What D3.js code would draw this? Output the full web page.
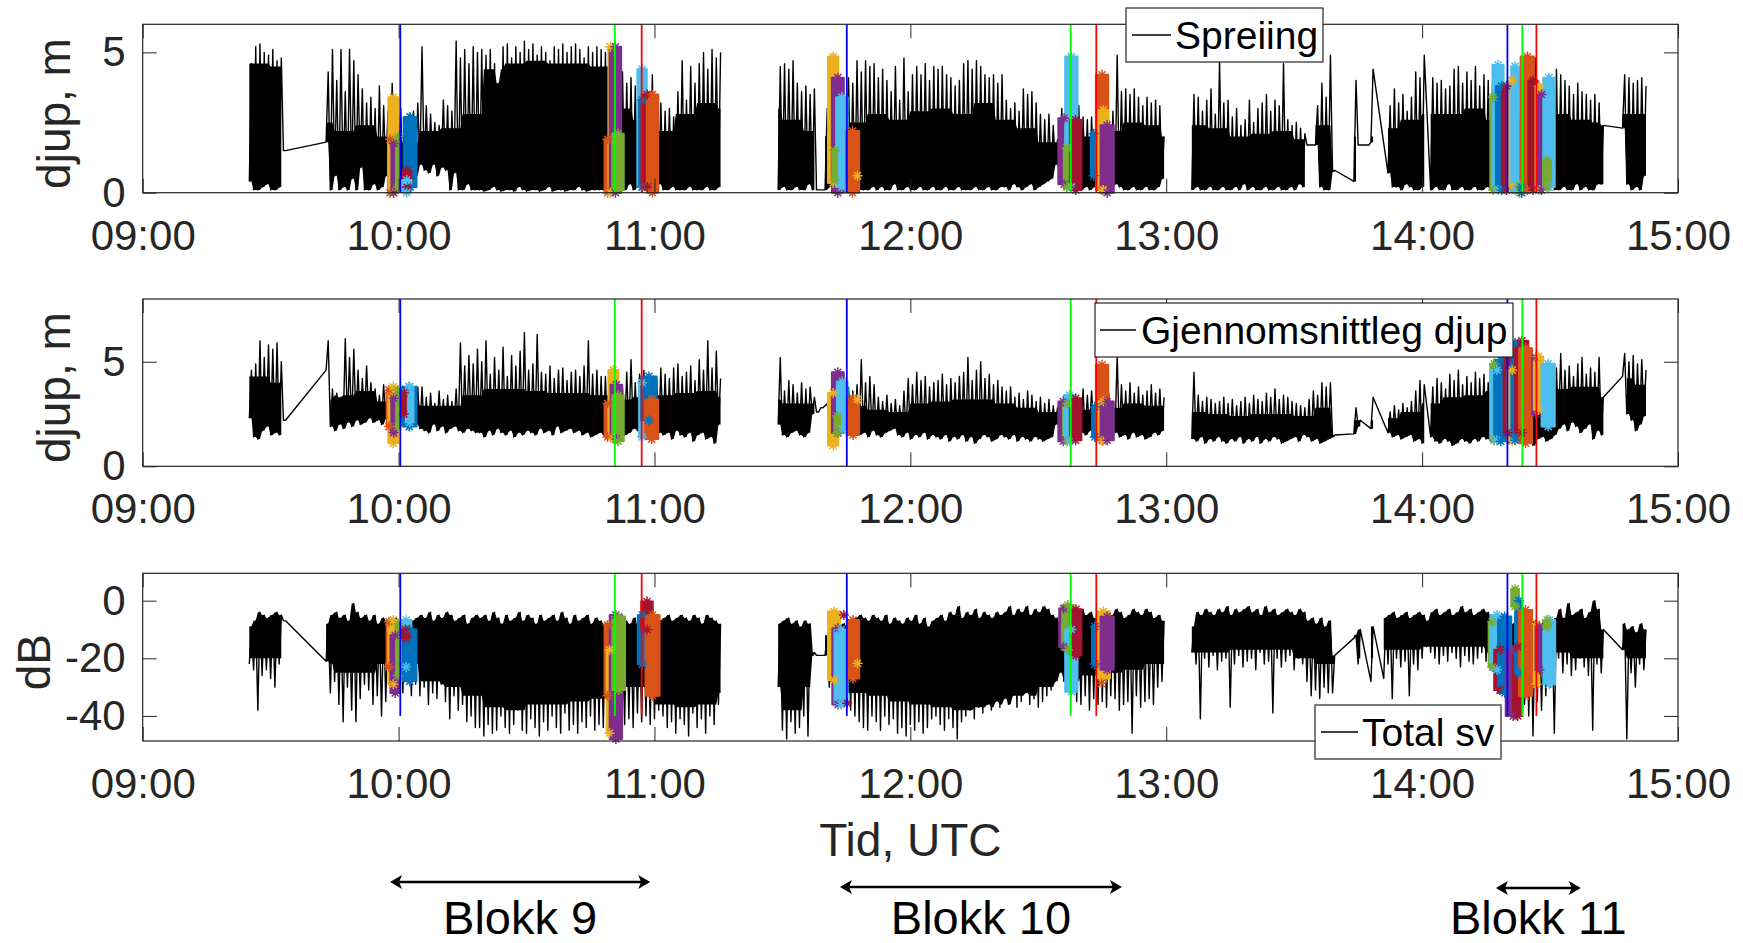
<!DOCTYPE html>
<html>
<head>
<meta charset="utf-8">
<script src="https://cdn.jsdelivr.net/npm/d3@7"></script>
<style>
  body { margin: 0; background: #fff; }
  svg text { font-family: "Liberation Sans", Arial, Helvetica, sans-serif; }
</style>
</head>
<body>
<svg id="fig" width="1743" height="943"></svg>
<script>
// one hi/lo pair per minute, first entry = 09:25 UTC; null = no sample (line joins across)
const firstMinute = 25;
// line is broken (no sample, not joined) across these minutes
const lineBreaks = [136, 240];

const spreiHi = [
  4.6,5.2,5.3,5.0,4.9,5.1,4.7,4.8,1.5,
  null,null,null,null,null,null,null,null,null,
  4.3,5.1,4.0,5.1,3.6,5.1,4.7,4.2,3.7,3.2,3.4,3.0,3.8,3.1,2.9,
  3.9,2.6,3.0,2.4,2.8,2.9,3.2,
  5.2,3.1,2.8,2.5,2.4,3.3,3.1,2.9,5.4,4.8,5.1,4.6,5.2,5.0,
  5.1,4.9,5.1,4.6,3.9,5.2,5.3,4.8,5.2,5.0,5.4,5.1,5.3,4.9,5.2,5.0,4.7,5.2,5.1,5.3,5.0,5.2,5.3,5.1,4.8,5.2,5.0,5.2,5.1,
  5.0,4.9,4.6,4.2,4.3,3.9,4.1,3.8,4.0,4.4,3.6,4.2,3.4,3.2,
  2.9,3.0,2.7,3.6,4.7,3.3,4.5,3.9,4.6,5.0,4.4,5.1,4.8,5.0,
  null,null,null,null,null,null,null,null,null,null,null,null,null,
  4.5,4.6,4.4,4.7,3.9,3.6,3.8,3.5,3.7,0.1,0.1,3.0,
  3.2,2.9,3.5,3.0,4.1,3.9,4.7,4.3,4.7,4.5,4.6,
  4.1,4.4,4.0,3.6,4.5,3.3,4.8,3.6,4.2,4.5,4.2,4.6,4.0,4.5,
  4.4,4.5,4.2,4.1,3.8,4.0,4.6,4.7,4.4,4.7,4.5,4.2,4.1,4.2,3.9,4.2,
  3.3,3.0,3.2,2.9,3.7,3.5,3.6,3.2,2.8,2.6,2.8,2.4,1.9,
  3.0,3.2,3.3,2.9,3.1,2.7,2.6,2.7,2.5,2.8,3.0,2.6,2.9,4.9,3.6,3.7,3.5,3.7,3.4,3.1,3.4,3.2,3.3,3.1,2.0,
  null,null,null,null,null,null,
  3.5,3.4,2.9,3.3,3.7,2.8,4.7,3.2,3.3,2.7,3.0,2.4,2.6,3.3,2.5,3.0,3.2,3.5,2.9,3.3,3.1,4.6,2.6,2.4,2.5,2.3,2.1,1.7,1.7,3.1,3.9,3.4,4.9,0.8,
  null,null,null,null,
  4.0,1.7,1.7,1.7,4.4,null,null,null,3.1,3.7,3.2,3.5,2.9,3.4,4.3,4.1,4.9,null,
  4.1,3.9,4.0,3.7,3.8,4.4,4.5,3.9,4.3,4.0,4.5,3.8,4.2,4.0,3.9,
  3.5,3.2,3.4,3.0,3.3,3.1,3.4,3.6,3.2,4.8,3.5,3.3,3.6,3.4,4.4,
  4.2,4.0,3.8,3.5,3.9,3.6,3.5,3.3,3.5,3.2,2.4,
  null,null,null,null,
  4.2,4.1,3.9,4.0,4.1,3.8
];
const spreiLo = [
  0.4,0.1,0.1,0.2,0.3,0.1,0.1,0.2,1.5,
  null,null,null,null,null,null,null,null,null,
  1.8,0.1,0.6,0.1,0.2,0.1,0.5,0.1,0.9,0.1,0.1,0.3,0.1,0.2,0.6,
  0.8,1.0,0.3,0.5,0.9,0.7,0.6,
  1.0,0.8,0.7,1.0,0.6,0.9,0.8,0.1,0.7,0.1,0.1,0.3,0.1,0.1,
  0.1,0.05,0.1,0.2,0.1,0.05,0.1,0.1,0.05,0.2,0.1,0.05,0.1,0.1,0.05,0.1,0.2,0.05,0.1,0.1,0.05,0.1,0.1,0.2,0.1,0.05,0.1,0.1,0.1,
  0.1,0.3,0.1,0.2,0.1,0.1,0.3,0.1,0.2,0.1,0.2,0.1,0.1,0.3,
  0.1,0.1,0.2,0.1,0.1,0.1,0.2,0.1,0.1,0.1,0.2,0.1,0.1,0.2,
  null,null,null,null,null,null,null,null,null,null,null,null,null,
  0.1,0.2,0.1,0.1,0.2,0.1,0.1,0.3,0.1,0.1,0.1,0.1,
  0.2,0.1,0.1,0.2,0.1,0.1,0.2,0.1,0.1,0.1,0.2,
  0.1,0.2,0.1,0.1,0.3,0.1,0.1,0.2,0.1,0.1,0.2,0.1,0.1,0.2,
  0.1,0.1,0.2,0.1,0.1,0.2,0.1,0.1,0.1,0.2,0.1,0.1,0.2,0.1,0.1,0.2,
  0.2,0.1,0.3,0.2,0.1,0.2,0.3,0.1,0.2,0.3,0.4,0.5,1.0,
  0.4,0.2,0.3,0.2,0.1,0.1,0.2,0.1,0.2,0.3,0.2,0.1,0.2,0.3,0.2,0.1,0.1,0.2,0.1,0.1,0.2,0.1,0.1,0.2,0.5,
  null,null,null,null,null,null,
  0.1,0.2,0.1,0.1,0.2,0.1,0.1,0.2,0.1,0.1,0.2,0.1,0.3,0.1,0.2,0.1,0.1,0.2,0.1,0.1,0.2,0.1,0.1,0.2,0.1,0.3,0.2,1.7,1.7,1.7,0.2,0.1,0.1,0.75,
  null,null,null,null,
  0.4,1.7,1.7,1.7,1.8,null,null,null,0.7,0.2,0.2,0.1,0.3,0.2,0.1,0.1,0.2,null,
  0.1,0.2,0.1,0.1,0.3,0.1,0.1,0.2,0.1,0.1,0.2,0.1,0.1,0.2,0.1,
  0.2,0.1,0.3,0.2,0.1,0.2,0.1,0.2,0.1,0.2,0.1,0.2,0.1,0.3,0.1,
  0.1,0.2,0.1,0.1,0.3,0.1,0.2,0.1,0.1,0.3,0.3,
  null,null,null,null,
  2.3,0.3,0.1,0.2,0.1,0.6
];
// upper edge of the dense part of the trace, one value per 5 minutes from 09:25
const spreiBody = [
  4.6,4.5,null,2.5,2.2,2.4,2.0,1.8,2.2,2.3,
  2.8,4.4,4.6,4.7,4.6,4.6,4.5,3.0,2.6,2.2,
  2.8,3.2,3.0,null,3.0,2.6,2.2,2.0,2.5,2.8,
  2.6,2.9,3.0,2.8,3.2,2.6,2.3,1.8,2.0,2.0,
  2.2,2.5,2.4,null,2.4,2.3,2.0,2.1,2.2,1.9,
  2.4,2.0,2.0,2.3,2.6,2.8,2.8,3.0,2.6,2.8,
  2.8,2.8,2.6,2.5,2.8,2.8
];

const gjennHi = [
  4.6,4.9,6.0,5.2,5.8,5.6,5.9,5.0,2.2,
  null,null,null,null,null,null,null,null,null,
  6.0,3.7,3.5,3.3,6.1,5.2,5.6,4.6,4.2,4.8,4.0,3.7,3.4,3.9,3.3,
  3.6,3.4,3.5,3.3,3.6,3.5,3.8,
  3.8,3.3,3.5,3.0,3.6,3.2,3.4,3.1,3.7,5.9,4.8,5.3,4.9,5.6,
  5.0,6.0,4.4,5.2,4.6,5.7,4.3,5.3,4.8,5.5,6.4,4.6,4.9,6.3,4.5,4.4,4.8,4.2,4.6,4.7,4.1,4.5,4.6,4.3,4.8,6.0,4.4,4.6,4.3,
  4.3,4.2,3.9,4.1,3.8,4.5,5.1,4.0,4.4,4.6,3.9,4.1,4.2,4.7,
  4.4,4.2,4.7,4.9,4.3,4.5,4.8,4.1,5.1,4.6,6.0,4.7,5.5,4.2,
  null,null,null,null,null,null,null,null,null,null,null,null,null,
  5.2,3.6,4.1,3.9,3.5,4.0,3.7,3.8,3.3,2.6,2.8,3.0,
  3.2,3.3,3.0,3.5,3.8,3.6,3.9,5.1,4.0,4.3,3.9,
  3.3,3.1,3.4,3.0,3.2,2.9,3.6,4.2,3.9,4.5,4.1,4.3,3.8,4.0,
  4.1,4.4,3.9,4.2,4.0,4.3,4.5,5.2,4.1,4.6,5.0,4.2,4.4,3.9,4.1,3.8,
  3.6,3.8,3.3,3.5,3.2,3.6,3.4,3.1,3.3,3.0,3.2,2.9,2.8,
  3.1,3.3,3.0,3.2,3.1,3.7,3.4,3.6,3.2,3.4,3.3,3.5,3.1,5.3,3.9,3.6,4.0,3.5,3.8,3.4,3.6,3.9,3.5,3.7,3.3,
  null,null,null,null,null,null,
  4.5,3.4,3.1,3.3,3.2,3.0,3.1,3.3,3.0,3.2,2.9,3.1,3.3,3.0,3.4,3.2,3.1,3.5,3.3,3.7,3.2,3.4,3.3,3.1,3.0,2.9,2.8,3.2,3.6,3.4,4.0,3.8,4.0,1.5,
  null,null,null,null,
  2.8,2.2,null,null,3.3,null,null,null,2.6,2.9,2.7,3.0,2.8,3.1,3.6,4.1,3.9,null,
  3.8,4.2,4.0,3.7,4.4,4.1,4.6,3.9,4.3,4.0,4.5,4.2,4.4,4.0,4.6,
  4.4,4.1,4.3,4.0,4.2,4.5,4.1,4.6,4.3,5.3,4.4,4.2,4.5,4.3,4.7,
  5.4,4.6,4.8,4.3,4.9,5.2,4.4,4.7,4.5,5.2,3.3,
  null,null,null,null,
  5.4,5.0,5.3,4.9,5.1,4.6
];
const gjennLo = [
  2.3,1.4,1.3,1.7,1.9,1.5,1.6,1.5,2.2,
  null,null,null,null,null,null,null,null,null,
  4.6,1.9,1.7,2.0,1.8,2.1,1.9,2.2,2.0,2.1,2.3,2.1,2.2,2.0,2.3,
  2.2,2.4,2.3,2.5,2.2,2.4,2.0,
  1.8,1.7,1.6,2.0,1.7,1.9,1.6,1.8,1.9,1.7,1.6,1.8,1.7,1.6,
  1.6,1.4,1.7,1.5,1.8,1.6,1.5,1.7,1.4,1.6,1.5,1.7,1.6,1.5,1.8,1.6,1.7,1.5,1.9,1.6,1.7,1.8,1.6,1.7,1.5,1.6,1.4,1.5,1.6,
  1.5,1.4,1.8,1.6,1.7,1.5,1.6,1.8,1.7,1.5,1.6,1.4,1.7,1.6,
  1.5,1.6,1.3,1.7,1.5,1.4,1.6,1.2,1.5,1.6,1.3,1.4,1.1,2.0,
  null,null,null,null,null,null,null,null,null,null,null,null,null,
  2.0,1.5,1.4,1.6,1.7,1.5,1.4,1.6,2.5,2.6,2.8,2.9,
  2.1,2.0,2.2,1.9,1.8,1.7,1.8,1.5,1.6,1.4,1.7,
  1.5,1.4,1.6,1.7,1.8,1.5,1.4,1.6,1.3,1.5,1.4,1.6,1.3,1.5,
  1.4,1.3,1.5,1.2,1.4,1.3,1.5,1.2,1.4,1.1,1.3,1.5,1.4,1.2,1.3,1.5,
  1.4,1.3,1.5,1.2,1.4,1.3,1.2,1.4,1.3,1.2,1.3,1.4,2.0,
  1.7,1.6,1.8,1.7,1.9,1.6,1.5,1.7,1.8,1.6,1.7,1.5,1.8,1.6,1.4,1.5,1.3,1.6,1.4,1.5,1.3,1.4,1.6,1.5,1.7,
  null,null,null,null,null,null,
  1.3,1.2,1.4,1.1,1.3,1.2,1.4,1.2,1.1,1.3,1.2,1.4,1.1,1.3,1.2,1.4,1.1,1.3,1.2,1.4,1.3,1.1,1.2,1.3,1.4,1.2,1.5,1.4,1.2,1.3,1.1,1.2,1.3,1.4,
  null,null,null,null,
  1.55,1.9,null,null,1.8,null,null,null,1.6,1.4,1.5,1.3,1.4,1.5,1.2,1.3,1.1,null,
  1.4,1.2,1.1,1.3,1.2,1.0,1.1,1.3,1.2,1.1,1.3,1.2,1.4,1.3,1.2,
  1.3,1.2,1.4,1.1,1.3,1.2,1.4,1.3,1.2,1.0,1.3,1.4,1.2,1.3,1.5,
  1.8,2.0,1.7,2.1,1.9,1.6,1.8,2.0,1.3,1.7,1.5,
  null,null,null,null,
  4.3,2.5,2.2,1.7,2.0,2.4
];
const gjennBody = [
  4.3,4.0,null,3.2,3.4,3.6,3.1,3.0,2.9,2.9,
  3.4,3.7,3.7,3.6,3.5,3.5,3.4,3.2,3.3,3.4,
  3.5,3.6,3.3,null,3.2,3.0,3.0,2.8,2.9,2.7,
  2.6,3.0,3.1,3.2,3.2,3.0,2.8,2.6,2.6,2.7,
  2.8,3.0,2.9,null,2.6,2.5,2.4,2.5,2.5,2.4,
  2.8,2.2,2.2,2.3,2.6,3.0,3.3,3.4,3.6,3.8,
  3.8,3.7,3.8,3.8,4.2,3.9
];

const svHi = [
  -9,-7,-4,-5,-6,-5,-4,-5,-7,
  null,null,null,null,null,null,null,null,null,
  -8,-5,-4,-6,-5,-7,-1,-4,-6,-5,-7,-5,-8,-6,-7,
  -8,-6,-9,-7,-8,-7,-6,
  -5,-6,-4,-7,-5,-6,-4,-5,-7,-6,-5,-8,-6,-5,
  -6,-5,-7,-4,-6,-8,-5,-7,-6,-4,-7,-5,-6,-8,-5,-7,-6,-5,-7,-4,-6,-8,-5,-7,-6,-5,-8,-6,-7,
  -8,-9,-7,-8,-9,-7,-8,-6,-9,-7,-8,-6,-5,-7,
  -6,-5,-7,-6,-5,-6,-7,-5,-6,-8,-5,-6,-7,-8,
  null,null,null,null,null,null,null,null,null,null,null,null,null,
  -8,-7,-6,-8,-7,-9,-7,-8,-18,-19,-19,-12,
  -10,-9,-11,-8,-9,-7,-6,-5,-6,-7,-5,
  -6,-7,-5,-8,-6,-7,-8,-6,-7,-5,-8,-6,-9,-7,
  -6,-5,-7,-4,-5,-2,-6,-4,-5,-3,-6,-4,-5,-6,-4,-5,
  -4,-2,-5,-3,-4,-2,-5,-3,-4,-2,-3,-5,-6,
  -8,-5,-6,-4,-6,-3,-5,-4,-6,-5,-4,-6,-5,-3,-4,-6,-5,-3,-4,-5,-3,-4,-6,-5,-7,
  null,null,null,null,null,null,
  -9,-4,-5,-3,-4,-5,-3,-4,-2,-5,-3,-4,-3,-2,-4,-3,-5,-2,-4,-3,-5,-4,-3,-4,-5,-3,-4,-7,-6,-8,-6,-9,-7,-19,
  null,null,null,null,
  -12,-10,null,null,-9,null,null,-6,-5,-4,-6,-5,-4,-6,-5,-4,-5,-7,
  -4,-3,-5,-4,-3,-5,-4,-2,-4,-3,-5,-4,-3,-4,-5,
  -8,-7,-9,-6,-8,-7,-9,-8,-6,-7,-8,-9,-7,-8,-6,
  -3,-6,-1,-5,-4,-3,-6,-4,0,-3,-10,
  null,null,null,null,
  -8,-10,-9,-11,-8,-10
];
const svLo = [
  -22,-24,-38,-26,-24,-27,-30,-22,-7,
  null,null,null,null,null,null,null,null,null,
  -21,-32,-28,-36,-42,-30,-38,-42,-34,-29,-31,-36,-33,-40,-35,
  -28,-30,-25,-32,-27,-33,-29,
  -33,-30,-36,-32,-34,-29,-35,-41,-33,-38,-36,-42,-40,-44,
  -44,-47,-43,-46,-45,-40,-44,-46,-43,-38,-45,-46,-41,-44,-47,-42,-45,-40,-44,-46,-39,-45,-43,-46,-42,-44,-40,-45,-43,
  -44,-41,-45,-42,-40,-43,-41,-44,-39,-42,-40,-43,-41,-38,
  -40,-44,-42,-46,-41,-43,-47,-39,-44,-41,-46,-40,-43,-36,
  null,null,null,null,null,null,null,null,null,null,null,null,null,
  -30,-45,-48,-42,-46,-44,-40,-47,-19,-19,-19,-19,
  -30,-28,-33,-31,-35,-38,-40,-42,-44,-45,-40,
  -42,-45,-40,-43,-41,-46,-44,-47,-43,-45,-42,-46,-44,-41,
  -40,-43,-45,-41,-44,-48,-42,-40,-38,-41,-37,-39,-36,-38,-35,-37,
  -34,-36,-33,-37,-35,-32,-36,-34,-37,-35,-33,-31,-28,
  -25,-28,-30,-32,-35,-36,-33,-38,-34,-36,-35,-37,-33,-34,-38,-36,-35,-46,-33,-37,-35,-34,-36,-30,-28,
  null,null,null,null,null,null,
  -18,-22,-41,-20,-23,-19,-24,-21,-20,-37,-22,-19,-23,-21,-20,-24,-18,-22,-21,-39,-20,-23,-21,-19,-24,-20,-22,-28,-33,-31,-34,-30,-32,-32,
  null,null,null,null,
  -13,-22,null,null,-28,null,null,-27,-22,-34,-20,-23,-21,-33,-22,-24,-20,-16,
  -18,-20,-22,-19,-21,-18,-20,-23,-19,-21,-22,-20,-18,-21,-19,
  -22,-25,-28,-30,-33,-35,-32,-36,-40,-47,-35,-38,-33,-30,-46,
  -20,-25,-22,-26,-24,-20,-23,-26,-45,-22,-25,
  null,null,null,null,
  -17,-48,-25,-30,-22,-24
];
// lower edge of the dense part of the trace, one value per 5 minutes from 09:25
const svBody = [
  -20,-20,null,-22,-25,-25,-22,-22,-28,-30,
  -33,-37,-38,-36,-36,-35,-34,-30,-30,-36,
  -37,-36,-32,null,-38,-38,-30,-28,-32,-33,
  -35,-36,-37,-38,-37,-36,-33,-30,-28,-26,
  -25,-24,-22,null,-18,-18,-17,-17,-17,-20,
  -22,-20,-20,-17,-17,-16,-16,-16,-18,-20,
  -22,-18,-20,-20,-20,-20
];

// MATLAB default colour order
const seriesColors = ["#0072BD", "#D95319", "#EDB120", "#7E2F8E", "#77AC30", "#4DBEEE", "#A2142F"];

// marker clouds: [start min, end min, low, high, colour index]
const spreiClusters = [
  [57.5,58.5,0,1.9,1],[57.6,59.9,0,3.4,2],[58.3,59.4,0,1.75,3],[59.4,60.3,0.2,2.0,4],
  [61.2,64.2,0.2,2.7,0],[61,63,0.2,0.8,6],[60.8,63,0,0.45,5],
  [108.3,109.7,0,1.9,1],[109.2,110.1,0,5.2,2],[109.5,112.2,0,5.2,3],[110.1,112.8,0.1,2.1,4],
  [116,118.2,0.2,4.4,5],[116.4,117.8,0.2,3.3,0],[117,119.6,0.2,3.5,6],[118.2,120.9,0,3.5,1],
  [160.7,163.1,0.35,4.85,2],[161.6,164.4,0,4.1,3],[162.6,165.3,0.2,3.4,5],[161.7,162.8,0.45,1.5,4],[164.9,168,0,2.2,1],
  [214.7,217.4,0.3,2.65,3],[216.3,219.2,0.2,4.85,5],[216,217.4,0.2,1.6,4],[217.4,220.1,0.1,2.6,6],
  [222.3,223.7,0.6,2.1,0],[223.5,226.4,0.1,4.2,1],[224.1,226.4,0.1,2.95,2],[224.6,227.7,0,2.4,3],
  [316,317.3,0.1,3.4,4],[316.5,319.1,0.1,4.55,5],[317.3,320,0.1,3.8,0],[318.7,320.9,0.1,3.8,6],
  [320.4,321.8,0.2,4.0,2],[320.9,322.7,0.1,4.5,5],[320.9,324.9,0,0.25,4],[321.8,324.9,0,0.2,0],
  [323.1,326.2,0.1,4.85,1],[324.9,327.1,0.1,4.0,6],[326.6,328.4,0.1,3.8,2],[327.1,328.9,0.1,3.5,3],
  [328.4,331.1,0.2,4.1,5],[328.4,330.2,0.2,1.15,4]
];
const gjennClusters = [
  [57.2,58.3,1.9,3.65,1],[57.6,59.9,1.1,3.8,2],[58.3,59.4,1.6,3.25,3],[59.4,60.3,1.9,3.65,4],
  [60.8,64.2,1.9,3.8,0],[61.7,63.5,2.1,3.8,5],[60.8,61.7,2.5,3.5,6],
  [108.3,109.7,1.4,3.0,1],[109.2,111.5,1.3,4.6,2],[109.7,112.4,1.3,3.9,3],[110.1,112.8,1.2,3.4,4],
  [116.4,117.8,1.4,4.0,5],[116.9,120.5,2.2,4.3,0],[117.8,120.9,1.3,3.2,1],
  [160.7,163.1,1.0,3.5,2],[161.6,164.4,1.6,4.5,3],[162.8,165.3,1.75,4.05,5],[162.2,163.5,1.6,2.4,4],[165.1,168,1.5,3.25,1],
  [214.7,217,1.2,3.1,3],[215.8,217.8,1.2,3.0,4],[216,218.7,1.2,3.4,5],[217.4,220.1,1.25,3.25,6],
  [222.6,223.9,1.4,2.85,0],[223.5,226.4,1.25,4.85,1],[224.1,226.4,1.2,3.1,2],[224.6,227.7,1.25,3.1,3],
  [316,317.8,1.25,4.9,4],[316,319.1,1.25,4.6,5],[316.9,320,1.2,5.1,0],[319.1,320.9,1.6,5.2,6],
  [320,322.2,1.2,4.6,2],[320.9,322.7,1.25,5.9,0],[321.8,324.9,1.6,6.0,6],[322.7,325.8,1.1,5.65,1],
  [325.8,327.5,2.5,5.2,3],[326.2,328.4,2.7,5.25,2],[328,331.1,1.9,4.9,5]
];
const svClusters = [
  [57.2,58.3,-22.9,-7.3,1],[57.6,59.9,-29,-6.7,2],[58.1,60.3,-32,-12,3],[59.4,60.3,-26,-8,4],
  [60.6,63,-23,-6.7,5],[61,64.2,-28,-10,0],[60.6,62.6,-13,-10,6],
  [108.3,109.7,-33,-8.4,1],[108.8,110.1,-46,-17,2],[109.5,112.4,-48,-5,3],[110.1,113.1,-31,-5.5,4],
  [116.1,118.2,-22,-5,0],[116.9,119.6,-10,-0.3,6],[117.9,121.2,-33,-5,1],
  [160.7,163.5,-27.5,-3.8,2],[161.7,164.4,-36,-9.6,3],[162.2,165.3,-36,-10,5],[165.1,168,-27,-6.7,1],
  [214.9,217,-16,-2.7,3],[215.6,218.3,-17,-1.5,4],[216.3,219.2,-31.6,-10,5],[217.6,220.1,-19,-3,6],
  [222.6,223.9,-22,-9,0],[223.7,226.8,-27,-3.8,2],[224.6,227.7,-24,-5.5,3],
  [315.6,317.3,-23,-7.3,4],[316,319.1,-24,-5,5],[316.9,319.6,-31,-17,6],[317.8,320.9,-32,-5.5,0],
  [319.6,323.1,-40,-17,3],[321.3,323.5,-40,-16,6],[321.8,323.5,-25,0,0],[320.9,322.7,-2,4,4],
  [322.7,325.8,-33,-3.2,1],[326.2,327.5,-29,-8,2],[326.6,328.4,-24,-9,3],[328.4,331.2,-29,-6.7,5],[328.4,330.2,-9,-6.7,4]
];
// single stray markers: [min, value, colour index]
const spreiStars = [[167.6,0.6,2],[162.8,4.0,3],[163.9,3.3,5]];
const gjennStars = [[167.6,3.2,2]];
const svStars = [[164.4,-5,6],[165.2,-35.6,6],[167.6,-21.7,2],[224.8,-28.7,1],[321.8,3,4]];

// block start/end lines (minutes after 09:00)
const blockLineTimes = [60.4, 110.7, 117, 165.1, 217.6, 223.6, 320, 323.5, 326.8];
const blockLineColors = ["#0000ff", "#00ff00", "#ff0000", "#0000ff", "#00ff00", "#ff0000", "#0000ff", "#00ff00", "#ff0000"];

const blokkLabels = ["Blokk 9", "Blokk 10", "Blokk 11"];
const blokkFrom = [58, 163.5, 317.3];
const blokkTo = [119, 229.6, 337.2];

const t0 = Date.UTC(2021, 0, 1, 9, 0);
const toDate = m => new Date(t0 + m * 60000);

const svg = d3.select("#fig");
const left = 142.7, right = 1678;
const x = d3.scaleUtc().domain([toDate(0), toDate(360)]).range([left, right]);
const axisColor = "#262626";
const fontFam = '"Liberation Sans", Arial, Helvetica, sans-serif';

const panels = [
  { hi: spreiHi, lo: spreiLo, body: spreiBody, spikesUp: true, clusters: spreiClusters, stars: spreiStars,
    top: 24.3, bottom: 192.7, yDomain: [0, 6], ticks: [0, 5], label: "djup, m", labelX: 70, lineFrom: 0,
    legend: { text: "Spreiing", x: 1126, y: 8, w: 197, lineX: [1132, 1171], textX: 1175 } },
  { hi: gjennHi, lo: gjennLo, body: gjennBody, spikesUp: true, clusters: gjennClusters, stars: gjennStars,
    top: 299, bottom: 466.3, yDomain: [0, 8], ticks: [0, 5], label: "djup, m", labelX: 70, lineFrom: 0,
    legend: { text: "Gjennomsnittleg djup", x: 1095, y: 303, w: 418, lineX: [1100, 1136], textX: 1141 } },
  { hi: svHi, lo: svLo, body: svBody, spikesUp: false, clusters: svClusters, stars: svStars,
    top: 573.3, bottom: 741, yDomain: [-48.7, 9.5], ticks: [-40, -20, 0], label: "dB", labelX: 50, lineFrom: -40,
    legend: { text: "Total sv", x: 1315, y: 705, w: 186, lineX: [1321, 1358], textX: 1362 } }
];

panels.forEach(p => {
  if (p.hi.length !== 328 || p.lo.length !== 328 || p.body.length !== 66)
    console.error("length", p.label, p.hi.length, p.lo.length, p.body.length);
});

// zig-zag through lo/hi of each minute; segments split at the NaN gaps
function traces(hi, lo) {
  const segs = [[], [], []];
  hi.forEach((h, i) => {
    if (h === null || lo[i] === null) return;
    const m = firstMinute + i;
    const s = lineBreaks.filter(b => m >= b).length;
    segs[s].push([m, lo[i]], [m + 0.5, h]);
  });
  return segs.filter(s => s.length);
}

// dense core of the trace: between lo and body (spikes up) or body and hi (spikes down)
function coreRows(p) {
  const rows = [];
  p.hi.forEach((h, i) => {
    const m = firstMinute + i, l = p.lo[i], b = p.body[Math.floor(i / 5)];
    if (h === null || l === null || b === null) { rows.push(null); return; }
    const top = p.spikesUp ? Math.min(b, h) : h;
    const bot = p.spikesUp ? l : Math.max(b, l);
    if (top - bot <= 0) { rows.push(null); return; }
    rows.push({ m: m, y0: bot, y1: top }, { m: m + 0.5, y0: bot, y1: top });
  });
  return rows;
}

function asterisk(r) {
  const a = r * 0.707;
  return `M${-r},0L${r},0M0,${-r}L0,${r}M${-a},${-a}L${a},${a}M${-a},${a}L${a},${-a}`;
}

panels.forEach(p => {
  const g = svg.append("g");
  const y = d3.scaleLinear().domain(p.yDomain).range([p.bottom, p.top]);

  const core = d3.area()
    .defined(d => d !== null)
    .x(d => x(toDate(d.m)))
    .y0(d => y(d.y0))
    .y1(d => y(d.y1));
  g.append("path").datum(coreRows(p)).attr("d", core).attr("fill", "#000");

  const line = d3.line().x(d => x(toDate(d[0]))).y(d => y(d[1]));
  g.selectAll("path.trace").data(traces(p.hi, p.lo)).join("path")
    .attr("class", "trace")
    .attr("d", line)
    .attr("fill", "none")
    .attr("stroke", "#000")
    .attr("stroke-width", 1.4)
    .attr("stroke-linejoin", "round");

  // coloured marker clouds
  g.selectAll("rect.cl").data(p.clusters).join("rect")
    .attr("class", "cl")
    .attr("x", d => x(toDate(d[0])))
    .attr("width", d => x(toDate(d[1])) - x(toDate(d[0])))
    .attr("y", d => y(d[3]))
    .attr("height", d => y(d[2]) - y(d[3]))
    .attr("fill", d => seriesColors[d[4]])
    .attr("stroke", d => seriesColors[d[4]])
    .attr("stroke-width", 2)
    .attr("stroke-linejoin", "round");

  const ends = [];
  p.clusters.forEach(d => {
    const mid = (d[0] + d[1]) / 2;
    ends.push([mid, d[3], d[4]], [mid, d[2], d[4]]);
  });
  g.selectAll("path.star").data(ends.concat(p.stars)).join("path")
    .attr("class", "star")
    .attr("transform", d => `translate(${x(toDate(d[0]))},${y(d[1])})`)
    .attr("d", asterisk(5))
    .attr("fill", "none")
    .attr("stroke", d => seriesColors[d[2]])
    .attr("stroke-width", 1.5);

  // block lines
  g.selectAll("line.blk").data(blockLineTimes).join("line")
    .attr("class", "blk")
    .attr("x1", d => x(toDate(d))).attr("x2", d => x(toDate(d)))
    .attr("y1", y(p.lineFrom)).attr("y2", p.top)
    .attr("stroke", (d, i) => blockLineColors[i])
    .attr("stroke-width", 1.8);

  // axes (MATLAB style, ticks inward, box on)
  const xb = g.append("g").attr("transform", `translate(0,${p.bottom})`)
    .call(d3.axisBottom(x).ticks(d3.utcHour.every(1)).tickFormat(d3.utcFormat("%H:%M"))
      .tickSize(-14).tickSizeOuter(0).tickPadding(27));
  const xt = g.append("g").attr("transform", `translate(0,${p.top})`)
    .call(d3.axisTop(x).ticks(d3.utcHour.every(1)).tickFormat("").tickSize(-14).tickSizeOuter(0));
  const yl = g.append("g").attr("transform", `translate(${left},0)`)
    .call(d3.axisLeft(y).tickValues(p.ticks).tickFormat(d => String(d)).tickSize(-14).tickSizeOuter(0).tickPadding(17));
  const yr = g.append("g").attr("transform", `translate(${right},0)`)
    .call(d3.axisRight(y).tickValues(p.ticks).tickFormat("").tickSize(-14).tickSizeOuter(0));
  [xb, xt, yl, yr].forEach(a => {
    a.attr("color", axisColor).attr("font-size", 42).attr("font-family", fontFam);
    a.select(".domain").remove();
    a.selectAll(".tick line").attr("stroke-width", 1);
  });

  g.append("rect").attr("x", left).attr("y", p.top).attr("width", right - left).attr("height", p.bottom - p.top)
    .attr("fill", "none").attr("stroke", axisColor).attr("stroke-width", 1.2);

  // y label
  g.append("text")
    .attr("transform", `translate(${p.labelX},${(p.top + p.bottom) / 2 + 5}) rotate(-90)`)
    .attr("text-anchor", "middle")
    .attr("font-size", 46)
    .attr("fill", axisColor)
    .text(p.label);

  // legend
  const L = p.legend;
  const lg = g.append("g");
  lg.append("rect").attr("x", L.x).attr("y", L.y).attr("width", L.w).attr("height", 54)
    .attr("fill", "#fff").attr("stroke", axisColor).attr("stroke-width", 1.2);
  lg.append("line").attr("x1", L.lineX[0]).attr("x2", L.lineX[1]).attr("y1", L.y + 27).attr("y2", L.y + 27)
    .attr("stroke", "#000").attr("stroke-width", 1.3);
  lg.append("text").attr("x", L.textX).attr("y", L.y + 41).attr("font-size", 39).attr("fill", "#000").text(L.text);
});

// x label
svg.append("text").attr("x", (left + right) / 2).attr("y", 856)
  .attr("text-anchor", "middle").attr("font-size", 46).attr("fill", axisColor).text("Tid, UTC");

// block arrows
const arrowY = [882, 887, 888];
function head(px, py, dir) {
  const L = 12, W = 7, back = 3;
  return `M${px},${py}L${px - dir * L},${py - W}L${px - dir * (L - back)},${py}L${px - dir * L},${py + W}Z`;
}
blokkLabels.forEach((name, i) => {
  const x1 = x(toDate(blokkFrom[i])), x2 = x(toDate(blokkTo[i])), yy = arrowY[i];
  svg.append("line").attr("x1", x1 + 4).attr("x2", x2 - 4).attr("y1", yy).attr("y2", yy)
    .attr("stroke", "#000").attr("stroke-width", 2.5);
  svg.append("path").attr("d", head(x1, yy, -1)).attr("fill", "#000");
  svg.append("path").attr("d", head(x2, yy, 1)).attr("fill", "#000");
  svg.append("text").attr("x", (x1 + x2) / 2).attr("y", 934)
    .attr("text-anchor", "middle").attr("font-size", 47).attr("fill", "#000").text(name);
});
</script>
</body>
</html>
